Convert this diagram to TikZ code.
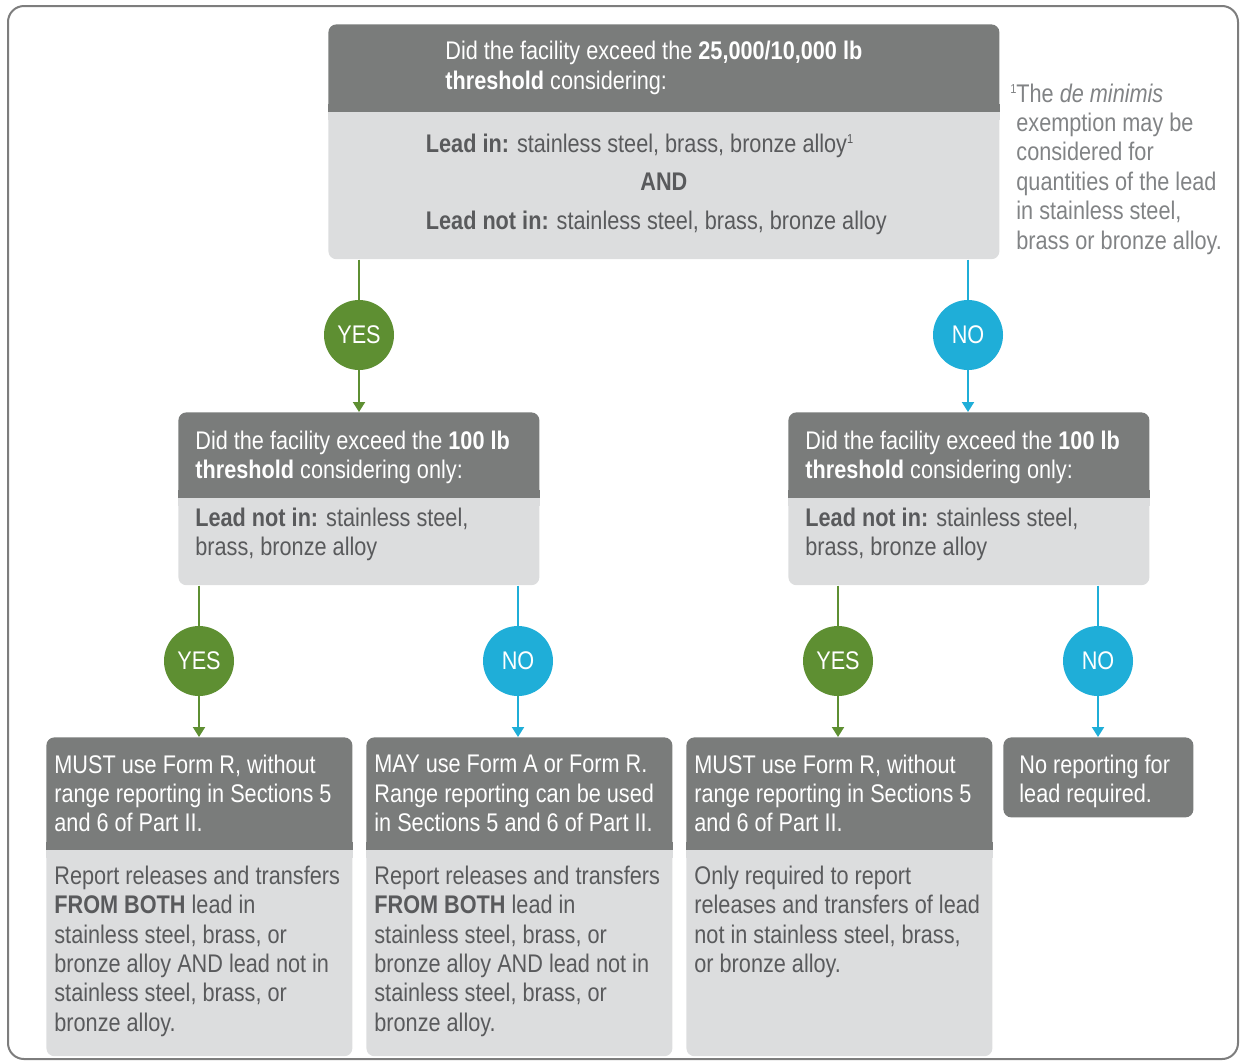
\documentclass[tikz,border=0pt]{standalone}
\usepackage{fontspec}
\setmainfont{Liberation Sans}[FakeStretch=0.85]
\usetikzlibrary{positioning,arrows.meta}

\definecolor{boxdark}{HTML}{7A7C7B}
\definecolor{boxlight}{HTML}{DCDDDE}
\definecolor{bodytext}{HTML}{595A5C}
\definecolor{notegray}{HTML}{818385}
\definecolor{framegray}{HTML}{7D7D7D}
\definecolor{yesgreen}{HTML}{5E8F32}
\definecolor{noblue}{HTML}{1FAED8}

\hyphenpenalty=10000
\exhyphenpenalty=10000
\newcommand{\boxfont}{\fontsize{12.75pt}{14.7pt}\selectfont}
\newcommand{\fnmark}{\raisebox{4.5pt}{\fontsize{6.5pt}{7pt}\selectfont 1}}

\tikzset{
  head/.style={fill=boxdark, text=white, rounded corners=4pt, align=flush left, font=\boxfont, inner ysep=0pt},
  body/.style={fill=boxlight, text=bodytext, rounded corners=4pt, align=flush left, font=\boxfont, inner ysep=0pt},
  midpart/.style={inner xsep=8.5pt, text width=163.5pt},
  lowpart/.style={inner xsep=4pt, text width=145pt},
  yesdot/.style={circle, fill=yesgreen, text=white, minimum size=35pt, inner sep=0pt, font=\boxfont},
  nodot/.style={circle, fill=noblue, text=white, minimum size=35pt, inner sep=0pt, font=\boxfont},
  yesline/.style={draw=yesgreen, line width=1pt},
  noline/.style={draw=noblue, line width=1pt},
  arrowed/.style={-{Triangle[width=6pt,length=5pt]}},
  note/.style={text=notegray, align=flush left, font=\boxfont, inner sep=0pt, text width=112pt}
}

\begin{document}
\begin{tikzpicture}[x=0.5pt, y=-0.5pt]
 \useasboundingbox (0,0) rectangle (1241,1061);
 \draw[framegray, line width=1pt, rounded corners=8pt] (8,6) rectangle (1238,1059);

 % first question
 \node (head 1) at (328,24) [head, anchor=north west, inner xsep=58.5pt, text width=218.5pt, minimum height=43.5pt]
   {Did the facility exceed the \textbf{25,000/10,000 lb}\\\textbf{threshold} considering:};
 \node (body 1) [body, below=0pt of head 1, inner xsep=48.75pt, text width=238pt, text height=20pt, text depth=53.5pt]
   {\textbf{Lead in:} stainless steel, brass, bronze alloy\fnmark\\[4.5pt]
    \makebox[\linewidth]{\textbf{AND}}\\[4.5pt]
    \textbf{Lead not in:} stainless steel, brass, bronze alloy};
 \node (note) at (1016,102) [note, anchor=base west]
   {\llap{\fnmark}The \textit{de minimis}\\exemption may be\\considered for\\quantities of the lead\\in stainless steel,\\brass or bronze alloy.};

 \node (yes 1) at (359,335) [yesdot] {YES};
 \node (no 1) at (968,335) [nodot] {NO};

 % second questions
 \node (head 2) at (178,412) [head, anchor=north west, midpart, minimum height=42.5pt, text height=12pt]
   {Did the facility exceed the \textbf{100 lb}\\\textbf{threshold} considering only:};
 \node (body 2) [body, below=0pt of head 2, midpart, text height=14pt, text depth=29.5pt]
   {\textbf{Lead not in:} stainless steel,\\brass, bronze alloy};
 \node (head 3) at (788,412) [head, anchor=north west, midpart, minimum height=42.5pt, text height=12pt]
   {Did the facility exceed the \textbf{100 lb}\\\textbf{threshold} considering only:};
 \node (body 3) [body, below=0pt of head 3, midpart, text height=14pt, text depth=29.5pt]
   {\textbf{Lead not in:} stainless steel,\\brass, bronze alloy};

 \node (yes 2) at (199,661) [yesdot] {YES};
 \node (no 2) at (518,661) [nodot] {NO};
 \node (yes 3) at (838,661) [yesdot] {YES};
 \node (no 3) at (1098,661) [nodot] {NO};

 % outcomes
 \node (head 4) at (46,737) [head, anchor=north west, lowpart, minimum height=56pt]
   {MUST use Form R, without\\range reporting in Sections 5\\and 6 of Part II.};
 \node (body 4) [body, below=0pt of head 4, lowpart, text height=17pt, text depth=86pt]
   {Report releases and transfers\\\textbf{FROM BOTH} lead in\\stainless steel, brass, or\\bronze alloy AND lead not in\\stainless steel, brass, or\\bronze alloy.};
 \node (head 5) at (366,737) [head, anchor=north west, lowpart, minimum height=56pt]
   {MAY use Form A or Form R.\\Range reporting can be used\\in Sections 5 and 6 of Part II.};
 \node (body 5) [body, below=0pt of head 5, lowpart, text height=17pt, text depth=86pt]
   {Report releases and transfers\\\textbf{FROM BOTH} lead in\\stainless steel, brass, or\\bronze alloy AND lead not in\\stainless steel, brass, or\\bronze alloy.};
 \node (head 6) at (686,737) [head, anchor=north west, lowpart, minimum height=56pt]
   {MUST use Form R, without\\range reporting in Sections 5\\and 6 of Part II.};
 \node (body 6) [body, below=0pt of head 6, lowpart, text height=17pt, text depth=86pt]
   {Only required to report\\releases and transfers of lead\\not in stainless steel, brass,\\or bronze alloy.};
 \node (head 7) at (1003,737) [head, anchor=north west, inner xsep=8pt, text width=79pt, minimum height=40pt, text height=13pt]
   {No reporting for\\lead required.};

 % square off where head meets body
 \foreach \n in {1,...,6} {
  \fill[boxdark] (head \n.south west) rectangle ([yshift=4pt]head \n.south east);
  \fill[boxlight] (body \n.north west) rectangle ([yshift=-4pt]body \n.north east);
 }

 \draw[yesline] (body 1.south -| yes 1) -- (yes 1);
 \draw[yesline, arrowed] (yes 1) -- (yes 1 |- head 2.north);
 \draw[noline] (body 1.south -| no 1) -- (no 1);
 \draw[noline, arrowed] (no 1) -- (no 1 |- head 3.north);
 \draw[yesline] (body 2.south -| yes 2) -- (yes 2);
 \draw[yesline, arrowed] (yes 2) -- (yes 2 |- head 4.north);
 \draw[noline] (body 2.south -| no 2) -- (no 2);
 \draw[noline, arrowed] (no 2) -- (no 2 |- head 5.north);
 \draw[yesline] (body 3.south -| yes 3) -- (yes 3);
 \draw[yesline, arrowed] (yes 3) -- (yes 3 |- head 6.north);
 \draw[noline] (body 3.south -| no 3) -- (no 3);
 \draw[noline, arrowed] (no 3) -- (no 3 |- head 7.north);
\end{tikzpicture}
\end{document}
